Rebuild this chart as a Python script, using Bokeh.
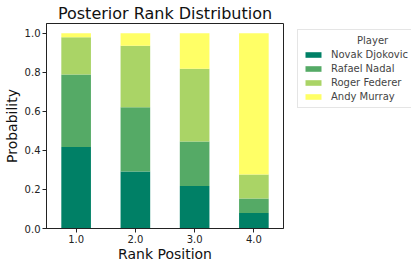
from bokeh.plotting import figure
from bokeh.layouts import row
from bokeh.models import ColumnDataSource, Legend, LegendItem, FixedTicker, Range1d
from bokeh.embed import file_html
from bokeh.resources import INLINE

ranks = ["1.0", "2.0", "3.0", "4.0"]
players = ["Novak Djokovic", "Rafael Nadal", "Roger Federer", "Andy Murray"]
djokovic = [0.418, 0.292, 0.218, 0.080]
nadal = [0.371, 0.329, 0.228, 0.074]
federer = [0.191, 0.315, 0.372, 0.123]
murray = [0.020, 0.064, 0.182, 0.723]
colors = ["#008066", "#55aa66", "#aad466", "#ffff66"]

series = [djokovic, nadal, federer, murray]
xs = list(range(len(ranks)))

FONT = "DejaVu Sans"
p = figure(width=291, height=264, output_backend="svg", toolbar_location=None,
           x_range=Range1d(-0.5, 3.5), y_range=Range1d(0, 1.05),
           min_border_left=40, min_border_right=8, min_border_top=16, min_border_bottom=34)

bottom = [0.0] * len(ranks)
for name, vals, c in zip(players, series, colors):
    top = [b + v for b, v in zip(bottom, vals)]
    src = ColumnDataSource(dict(x=xs, bottom=bottom, top=top))
    p.vbar(x="x", bottom="bottom", top="top", width=0.5, source=src,
           fill_color=c, line_color=None)
    bottom = top

p.title.text = "Posterior Rank Distribution"
p.title.text_font = FONT
p.title.text_font_size = "16px"
p.title.text_font_style = "normal"
p.title.text_color = "#111111"
p.title.align = "center"
p.title.standoff = 2

p.xgrid.visible = False
p.ygrid.visible = False
p.outline_line_color = "#222222"
p.outline_line_width = 1

p.xaxis.ticker = FixedTicker(ticks=xs)
p.xaxis.major_label_overrides = {i: r for i, r in enumerate(ranks)}
p.yaxis.ticker = FixedTicker(ticks=[0, 0.2, 0.4, 0.6, 0.8, 1.0])
p.yaxis.major_label_overrides = {0: "0.0", 0.2: "0.2", 0.4: "0.4", 0.6: "0.6", 0.8: "0.8", 1.0: "1.0"}

for ax in (p.xaxis, p.yaxis):
    ax.axis_line_color = "#222222"
    ax.major_tick_line_color = "#222222"
    ax.major_tick_out = 4
    ax.major_tick_in = 0
    ax.minor_tick_line_color = None
    ax.major_label_text_font = FONT
    ax.major_label_text_font_size = "10px"
    ax.major_label_text_color = "#222222"
    ax.axis_label_text_font = FONT
    ax.axis_label_text_font_size = "14px"
    ax.axis_label_text_font_style = "normal"
    ax.axis_label_text_color = "#111111"
    ax.major_label_standoff = 2
    ax.axis_label_text_line_height = 1.0
    ax.major_label_text_line_height = 1.0

p.xaxis.axis_label = "Rank Position"
p.yaxis.axis_label = "Probability"
p.xaxis.axis_label_standoff = 0
p.yaxis.axis_label_standoff = 2

# legend panel
lf = figure(width=120, height=264, output_backend="svg", toolbar_location=None,
            x_range=Range1d(0, 1), y_range=Range1d(0, 1),
            min_border_left=0, min_border_right=0, min_border_top=16, min_border_bottom=0)
lf.axis.visible = False
lf.grid.visible = False
lf.outline_line_color = None
items = []
for name, c in zip(players, colors):
    r = lf.vbar(x=[-10], top=[0], bottom=[0], width=0.5, fill_color=c, line_color=None)
    items.append(LegendItem(label=name, renderers=[r]))

legend = Legend(items=items, location="top_left")
legend.title = "\u00a0" * 17 + "Player"
legend.title_text_font = FONT
legend.title_text_font_size = "10px"
legend.title_text_font_style = "normal"
legend.title_standoff = 3
legend.label_text_font = FONT
legend.label_text_font_size = "10px"
legend.glyph_width = 20
legend.glyph_height = 7
legend.label_height = 10
legend.spacing = 3
legend.padding = 5
legend.margin = 6
legend.border_line_color = "#cccccc"
legend.label_standoff = 8
lf.add_layout(legend, "center")

layout = row(p, lf)
open("out.html", "w").write(file_html(layout, INLINE))
